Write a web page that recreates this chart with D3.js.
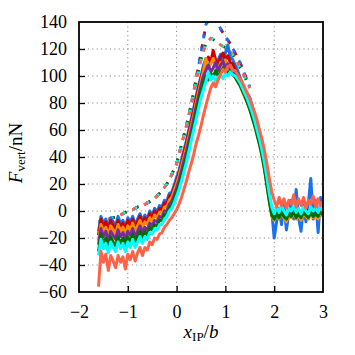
<!DOCTYPE html>
<html><head><meta charset="utf-8">
<script src="https://cdn.jsdelivr.net/npm/d3@7"></script>
<style>body{margin:0;background:#fff}svg{display:block}</style>
</head><body>
<svg id="c" width="355" height="355"></svg>
<script>
const xs = [-1.60,-1.55,-1.50,-1.45,-1.40,-1.35,-1.30,-1.25,-1.20,-1.15,-1.10,-1.05,-1.00,-0.95,-0.90,-0.85,-0.80,-0.75,-0.70,-0.65,-0.60,-0.55,-0.50,-0.45,-0.40,-0.35,-0.30,-0.25,-0.20,-0.15,-0.10,-0.05,0.00,0.05,0.10,0.15,0.20,0.25,0.30,0.35,0.40,0.45,0.50,0.55,0.60,0.65,0.70,0.75,0.80,0.85,0.90,0.95,1.00,1.05,1.10,1.15,1.20,1.25,1.30,1.35,1.40,1.45,1.50,1.55,1.60,1.65,1.70,1.75,1.80,1.85,1.90,1.95,2.00,2.05,2.10,2.15,2.20,2.25,2.30,2.35,2.40,2.45,2.50,2.55,2.60,2.65,2.70,2.75,2.80,2.85,2.90,2.95,3.00];

const blueVals = [-15,-4,-9,-6,-12,-5,-8,-11,-4,-9, -7,-12,-5,-8,-4,-10,-6,-2,-7,-3, -6,0,-3,2,-1,4,3,8,7,13, 14,19,25,30,38,45,52,60,68,76, 85,93,100,108,113,106,111,115,109,112, 116,111,117,123,114,112,108,104,99,94, 90,87,84,78,70,63,56,48,38,24, 12,0,-20,-8,2,-10,5,-14,-2,8, -6,16,-5,-15,4,-8,6,24,-6,8, -16,10,-4];
const redVals = [-18,-6,-12,-8,-14,-7,-11,-13,-7,-12, -9,-14,-7,-11,-6,-12,-8,-4,-9,-5, -8,-2,-5,0,-3,2,1,6,5,11, 12,17,22,28,35,43,50,58,66,74, 83,91,98,105,110,114,110,119,112,108, 114,117,112,115,110,109,105,101,97,92, 88,83,78,73,67,60,52,44,34,22, 10,-2,-6,0,-4,1,-3,-6,0,-2, 2,-4,0,-5,-1,2,-3,1,-4,0, -2,2,-3];
const orangeVals = [-22,-10,-15,-12,-18,-11,-14,-17,-10,-15, -12,-17,-11,-14,-9,-15,-11,-7,-12,-8, -10,-5,-8,-3,-5,-1,-2,3,3,8, 10,15,20,26,33,40,47,55,63,71, 80,88,96,104,113,106,109,113,107,104, 110,107,112,108,103,102,99,96,93,88, 84,80,76,70,64,57,49,41,31,19, 7,-4,-7,-2,-6,-1,-5,-8,-3,-5, -1,-6,-3,-7,-2,-4,-6,-2,-5,-3, -6,-1,-4];
const purpleVals = [-25,-13,-19,-15,-22,-15,-18,-21,-14,-19, -16,-21,-15,-18,-13,-19,-15,-11,-16,-12, -14,-9,-11,-7,-8,-4,-5,0,0,5, 7,12,17,23,30,37,44,52,60,68, 77,85,93,100,104,108,103,106,110,104, 108,111,106,109,105,104,101,98,95,90, 86,81,76,71,65,58,51,43,33,21, 9,-2,-5,-1,-4,0,-3,-5,-1,-3, 1,-4,-1,-4,0,-2,-4,0,-3,-1, -3,1,-2];
const greenVals = [-30,-17,-24,-20,-27,-19,-23,-26,-19,-24, -20,-26,-19,-23,-17,-23,-19,-15,-20,-15, -18,-12,-14,-10,-11,-7,-7,-3,-2,2, 4,9,14,19,26,33,40,48,56,64, 73,81,89,95,100,97,102,99,104,100, 103,106,104,102,104,101,99,96,93,89, 85,80,75,69,63,56,49,41,31,19, 7,-3,-6,-2,-5,-1,-4,-6,-2,-4, 0,-5,-2,-5,-1,-3,-5,-1,-4,-2, -4,0,-3];
const cyanVals = [-33,-21,-28,-24,-31,-23,-27,-30,-23,-28, -24,-30,-23,-27,-21,-27,-23,-19,-24,-19, -21,-16,-17,-13,-14,-10,-10,-6,-4,0, 2,6,11,16,22,29,36,44,52,60, 68,76,84,90,96,103,97,100,96,99, 101,98,102,100,103,101,100,98,95,91, 87,83,78,73,67,60,53,45,36,25, 13,3,-2,3,-1,4,0,-3,2,0, 4,-1,2,-2,3,0,-2,3,0,2, -1,3,0];
const tomatoVals = [-56,-30,-38,-32,-44,-33,-37,-42,-33,-38, -34,-43,-32,-36,-30,-37,-31,-27,-33,-27, -29,-23,-25,-20,-21,-17,-16,-12,-10,-7, -5,-2,1,5,10,16,22,29,35,42, 50,56,63,71,78,85,91,95,92,97, 101,105,103,107,108,104,104,101,98,95, 91,87,83,78,73,67,60,53,45,35, 24,14,8,3,10,4,9,2,8,5, 12,3,9,4,10,2,8,5,11,3, 9,4,7];

const seriesColors = ["#1a72ee","#cc0000","#ff8c00","#7a2aa0","#006e00","#00ffff","#ff6347"];
const seriesVals = [blueVals, redVals, orangeVals, purpleVals, greenVals, cyanVals, tomatoVals];

const dashXs = [-1.6,-1.5,-1.4,-1.3,-1.2,-1.1,-1.0,-0.9,-0.8,-0.7,-0.6,-0.5,-0.4,-0.3,-0.2,-0.1,0.0,0.1,0.2,0.3,0.4,0.5,0.6,0.7,0.8,0.9,1.0,1.1,1.2,1.3,1.4,1.5];
const dashUpper = [-8,-7,-6,-5,-4,-2,0,1,3,4,6,8,11,15,20,27,35,49,63,79,98,117,138,145,141,135,129,124,117,110,101,92];
const dashLower = [-8,-7,-6,-5,-4,-2,0,1,3,4,6,8,11,15,20,27,35,49,63,79,96,112,124,128,126,123,121,118,113,106,99,91];
const dashCurves = [dashUpper, dashUpper, dashUpper, dashLower, dashLower, dashLower];
const dashColors = ["#cc0000","#7a2aa0","#1a72ee","#006e00","#00ffff","#ff6347"];

const xTicks = [-2,-1,0,1,2,3];
const yTicks = [-60,-40,-20,0,20,40,60,80,100,120,140];

const L=79, R=323, T=22, B=292;
const svg = d3.select("#c");
const x = d3.scaleLinear().domain([-2,3]).range([L,R]);
const y = d3.scaleLinear().domain([-60,140]).range([B,T]);
const font = "'Liberation Serif','Times New Roman',serif";

svg.append("defs").append("clipPath").attr("id","clip")
  .append("rect").attr("x",L).attr("y",T).attr("width",R-L).attr("height",B-T);

// grid
const grid = svg.append("g");
grid.selectAll(".gx").data(xTicks.filter(d=>d>-2&&d<3)).join("line")
  .attr("x1",d=>x(d)).attr("x2",d=>x(d)).attr("y1",T).attr("y2",B)
  .attr("stroke","#8a8a8a").attr("stroke-width",1).attr("stroke-dasharray","1.2,3.2");
grid.selectAll(".gy").data(yTicks.filter(d=>d>-60&&d<140)).join("line")
  .attr("y1",d=>y(d)).attr("y2",d=>y(d)).attr("x1",L).attr("x2",R)
  .attr("stroke","#8a8a8a").attr("stroke-width",1).attr("stroke-dasharray","1.2,3.2");

const plot = svg.append("g").attr("clip-path","url(#clip)");
const dline = d3.line().x((d,i)=>x(dashXs[i])).y(d=>y(d));
dashCurves.forEach((c,k)=>{
  plot.append("path").datum(c).attr("d",dline).attr("fill","none")
    .attr("stroke",dashColors[k]).attr("stroke-width",2.8)
    .attr("stroke-dasharray","4,9").attr("stroke-dashoffset",(k%3)*1.5);
});
const line = d3.line().x((d,i)=>x(xs[i])).y(d=>y(d));
seriesVals.forEach((s,k)=>{
  plot.append("path").datum(s).attr("d",line).attr("fill","none")
    .attr("stroke",seriesColors[k]).attr("stroke-width",3).attr("stroke-linejoin","round");
});

// axes
const ax = svg.append("g").attr("transform",`translate(0,${B})`)
  .call(d3.axisBottom(x).tickValues(xTicks).tickSize(-6).tickPadding(13).tickFormat(d3.format("d")));
const ay = svg.append("g").attr("transform",`translate(${L},0)`)
  .call(d3.axisLeft(y).tickValues(yTicks).tickSize(-6).tickPadding(12).tickFormat(d3.format("d")));
[ax,ay].forEach(a=>{
  a.select(".domain").remove();
  a.selectAll(".tick line").attr("stroke","#000").attr("stroke-width",1.3);
  a.selectAll("text").attr("font-family",font).attr("font-size",18).attr("fill","#000");
});
ay.selectAll(".tick line").filter(d=>d===-60||d===140).remove();
ax.selectAll(".tick line").filter(d=>d===-2||d===3).remove();
ax.selectAll("text").attr("dy","0.71em");

svg.append("rect").attr("x",L).attr("y",T).attr("width",R-L).attr("height",B-T)
  .attr("fill","none").attr("stroke","#000").attr("stroke-width",1.8);

// labels
const xl = svg.append("text").attr("x",(L+R)/2+0).attr("y",338).attr("text-anchor","middle")
  .attr("font-family",font).attr("font-size",19);
xl.append("tspan").attr("font-style","italic").text("x");
xl.append("tspan").attr("font-size",13).attr("dy",3).text("IP");
xl.append("tspan").attr("dy",-3).text("/");
xl.append("tspan").attr("font-style","italic").text("b");

const yl = svg.append("text").attr("transform","translate(22,153) rotate(-90)").attr("text-anchor","middle")
  .attr("font-family",font).attr("font-size",19);
yl.append("tspan").attr("font-style","italic").text("F");
yl.append("tspan").attr("font-size",13).attr("dy",3).text("vert");
yl.append("tspan").attr("dy",-3).text("/nN");
</script>
</body></html>
